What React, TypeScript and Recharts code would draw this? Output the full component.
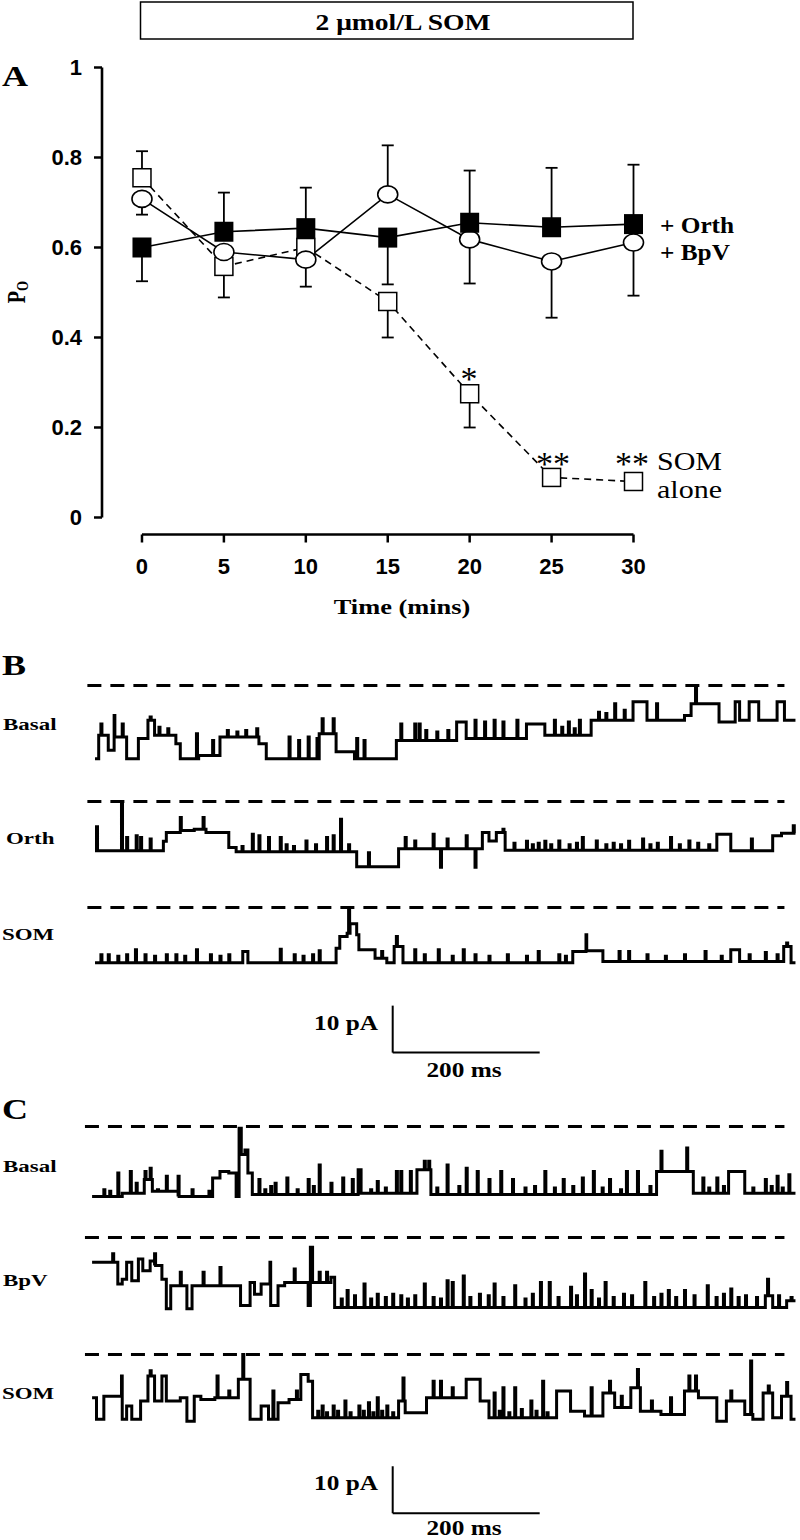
import React from 'react';
import { LineChart, Line, XAxis, YAxis, ErrorBar, ReferenceLine } from 'recharts';

const serif = "'Liberation Serif', 'Times New Roman', Times, serif";
const sans = "'Liberation Sans', Arial, Helvetica, sans-serif";

// ---- Panel A: open probability vs time ----
const minutes = [0, 5, 10, 15, 20, 25, 30];
const poTicks = [0, 0.2, 0.4, 0.6, 0.8, 1];

const orthPo = [0.6, 0.635, 0.643, 0.622, 0.655, 0.645, 0.652];
const orthErrLow = [0.075, 0, 0, 0.104, 0, 0, 0];
const orthErrHigh = [0, 0.087, 0.09, 0, 0.116, 0.132, 0.132];

const bpvPo = [0.708, 0.59, 0.573, 0.718, 0.618, 0.569, 0.611];
const bpvErrLow = [0.035, 0, 0.06, 0, 0.098, 0.125, 0.118];
const bpvErrHigh = [0, 0, 0, 0.109, 0, 0, 0];

const somPo = [0.755, 0.558, 0.6, 0.48, 0.275, 0.089, 0.08];
const somErrLow = [0, 0.069, 0, 0.08, 0.075, 0, 0];
const somErrHigh = [0.059, 0, 0, 0, 0, 0, 0];

const err = (lo: number, hi: number) => (lo || hi ? [lo, hi] : null);

const poRows = minutes.map((m, i) => ({
  m,
  orth: orthPo[i],
  bpv: bpvPo[i],
  som: somPo[i],
  orthErr: err(orthErrLow[i], orthErrHigh[i]),
  bpvErr: err(bpvErrLow[i], bpvErrHigh[i]),
  somErr: err(somErrLow[i], somErrHigh[i]),
}));

// ---- Panels B and C: single channel traces, [ms, pA] ----
// steps = level changes, spikes = brief openings/closings
const basalBSteps = [[5,-15.6],[10,-10.6],[23,-13.8],[32,-11.0],[48,-15.6],[64,-11.3],[77,-7.4],[86,-10.6],[115,-12.4],[121,-15.6],[146,-14.9],[175,-11.0],[228,-12.4],[238,-15.6],[310,-10.3],[333,-14.1],[358,-15.6],[415,-11.7],[497,-7.8],[510,-11.3],[592,-8.2],[617,-10.6],[680,-7.4],[737,-3.5],[756,-7.4],[807,-6.4],[816,-3.9],[854,-7.8],[876,-3.5],[882,-7.4],[895,-3.5],[908,-7.4],[933,-3.5],[943,-7.4]];
const basalBSpikes = [[13,-8.2],[31,-6.4],[42,-8.2],[80,-6.7],[92,-8.9],[104,-9.2],[143,-10.3],[165,-11.7],[185,-9.6],[198,-9.9],[210,-9.6],[225,-9.2],[269,-11.0],[282,-11.7],[295,-11.0],[307,-11.3],[314,-7.1],[329,-7.1],[361,-11.3],[371,-11.7],[421,-8.2],[440,-8.2],[446,-8.2],[455,-9.6],[470,-9.9],[485,-9.6],[522,-7.4],[535,-7.8],[548,-7.4],[560,-7.8],[579,-7.4],[630,-7.4],[640,-8.9],[649,-7.8],[657,-9.2],[664,-7.4],[690,-5.7],[700,-6.0],[712,-3.9],[725,-5.3],[769,-3.9],[822,0]];

const orthBSteps = [[5,-10.5],[98,-8.5],[102,-6.6],[121,-6.2],[140,-5.9],[156,-6.6],[187,-9.8],[197,-10.7],[361,-13.9],[418,-10.1],[532,-6.6],[541,-8.4],[551,-6.6],[563,-10.4],[851,-7.0],[870,-10.5],[927,-7.3],[939,-6.8]];
const orthBSpikes = [[7,-5.4],[41,0],[48,-7.7],[61,-7.3],[67,-7.7],[80,-8.0],[121,-3.4],[152,-3.4],[205,-9.6],[219,-7.0],[228,-7.3],[241,-7.7],[257,-7.7],[265,-9.2],[275,-9.6],[292,-8.4],[305,-9.2],[320,-7.7],[329,-7.3],[339,-3.8],[350,-9.2],[377,-10.9],[427,-7.7],[440,-8.4],[465,-7.0],[475,-14.0],[484,-8.0],[510,-7.3],[522,-14.0],[560,-5.9],[575,-8.9],[592,-8.5],[600,-9.2],[608,-8.9],[617,-8.5],[625,-9.2],[636,-8.4],[650,-9.2],[660,-8.9],[668,-7.7],[687,-8.4],[700,-9.2],[710,-8.9],[720,-9.2],[731,-8.5],[750,-8.0],[760,-9.2],[770,-8.9],[788,-7.7],[800,-9.2],[813,-8.4],[825,-8.9],[840,-9.2],[898,-8.0],[955,-5.2]];

const somBSteps = [[5,-11.8],[206,-9.4],[213,-11.8],[333,-8.7],[338,-6.2],[348,-5.5],[352,-3.5],[361,-5.8],[364,-9.0],[386,-10.8],[402,-11.8],[412,-8.3],[424,-11.8],[655,-9.4],[674,-9.2],[696,-11.5],[870,-9.0],[882,-11.5],[942,-8.3],[952,-11.8]];
const somBSpikes = [[13,-10.1],[23,-10.1],[36,-10.4],[48,-10.1],[60,-9.0],[73,-10.1],[86,-10.4],[102,-10.1],[115,-10.1],[127,-10.4],[143,-9.0],[162,-10.1],[175,-10.4],[187,-10.1],[257,-8.9],[276,-10.1],[288,-10.4],[301,-10.1],[310,-9.2],[350,0],[395,-9.4],[415,-6.2],[440,-9.0],[453,-10.1],[472,-9.0],[491,-10.4],[506,-9.0],[522,-10.1],[541,-10.4],[566,-10.1],[592,-10.4],[608,-9.4],[636,-10.1],[645,-10.4],[673,-5.8],[718,-9.4],[731,-9.4],[756,-10.1],[781,-10.4],[807,-10.1],[835,-9.4],[857,-10.4],[895,-10.1],[917,-9.6],[933,-10.1],[946,-7.6]];

const basalCSteps = [[1,-14.9],[42,-14.2],[72,-11.3],[83,-13.8],[118,-14.9],[165,-11.0],[175,-9.6],[187,-9.9],[197,-14.9],[201,-0.4],[204,-6.0],[209,-5.0],[213,-9.9],[219,-14.5],[363,-9.2],[367,-14.2],[443,-9.2],[462,-14.5],[769,-9.6],[819,-14.2],[867,-9.6],[889,-14.2]];
const basalCSpikes = [[17,-13.5],[25,-13.8],[36,-9.9],[53,-9.6],[61,-12.1],[73,-9.6],[80,-8.9],[90,-13.5],[102,-10.6],[118,-10.6],[137,-13.5],[160,-13.8],[228,-11.3],[236,-13.5],[244,-12.8],[250,-12.1],[266,-11.0],[280,-13.5],[295,-11.3],[302,-12.8],[310,-8.2],[326,-12.1],[342,-11.0],[355,-11.3],[380,-13.5],[389,-11.7],[400,-13.1],[415,-9.6],[421,-9.6],[434,-9.6],[453,-7.4],[459,-7.4],[470,-13.1],[484,-8.2],[500,-12.8],[510,-8.9],[525,-9.6],[541,-11.3],[557,-9.6],[573,-11.3],[590,-13.1],[603,-12.8],[617,-9.6],[630,-13.1],[642,-11.3],[655,-12.8],[668,-11.0],[683,-9.6],[695,-13.1],[705,-11.3],[720,-13.5],[728,-9.6],[743,-9.6],[760,-12.8],[775,-5.3],[810,-4.6],[832,-11.0],[840,-13.1],[851,-11.0],[860,-12.8],[900,-13.1],[917,-11.3],[925,-12.8],[933,-10.6],[940,-13.1],[949,-10.3]];

const bpvCSteps = [[1,-5.3],[36,-9.9],[42,-8.9],[48,-5.3],[55,-9.2],[64,-4.6],[70,-7.1],[80,-5.0],[86,-6.0],[96,-8.9],[102,-15.2],[108,-10.3],[130,-15.2],[137,-10.3],[203,-14.5],[216,-9.6],[222,-12.1],[231,-9.9],[244,-14.5],[254,-10.3],[263,-9.6],[295,-14.5],[298,-2.1],[301,-9.6],[326,-8.5],[331,-14.9],[917,-12.4],[927,-14.9],[946,-13.5]];
const bpvCSpikes = [[29,-3.5],[86,-3.5],[121,-7.4],[152,-7.4],[175,-6.4],[243,-5.3],[276,-6.7],[310,-7.4],[320,-7.4],[340,-13.1],[348,-11.3],[358,-12.4],[371,-9.9],[380,-13.1],[389,-12.1],[400,-12.8],[410,-12.1],[421,-12.4],[430,-13.1],[440,-12.4],[453,-9.9],[465,-12.8],[475,-13.1],[484,-9.2],[491,-9.6],[506,-8.2],[515,-12.8],[528,-12.1],[540,-12.4],[548,-9.9],[560,-12.8],[576,-10.3],[590,-13.1],[600,-12.1],[611,-9.6],[623,-9.6],[635,-12.8],[652,-10.6],[660,-12.4],[671,-7.8],[680,-11.3],[690,-13.1],[699,-9.6],[710,-12.8],[724,-12.1],[735,-12.4],[753,-9.6],[765,-12.8],[775,-12.1],[785,-11.3],[795,-12.8],[807,-11.3],[820,-12.4],[838,-10.3],[850,-12.8],[860,-12.1],[870,-11.0],[880,-12.8],[890,-12.4],[905,-12.8],[920,-8.9],[935,-12.4],[952,-12.8]];

const somCSteps = [[1,-9.2],[7,-13.8],[17,-8.9],[42,-13.8],[48,-11.0],[55,-13.8],[67,-9.9],[77,-4.6],[86,-9.9],[96,-4.6],[102,-9.9],[121,-9.2],[130,-14.2],[140,-8.9],[149,-9.6],[168,-9.2],[200,-5.3],[216,-13.8],[231,-11.0],[241,-13.8],[254,-10.3],[269,-9.6],[285,-4.3],[295,-5.7],[301,-13.5],[418,-9.9],[427,-12.4],[456,-9.2],[510,-5.3],[529,-9.9],[541,-13.5],[633,-7.8],[652,-12.1],[671,-13.1],[696,-8.2],[712,-11.3],[734,-7.1],[747,-12.1],[775,-12.8],[807,-7.8],[826,-9.2],[851,-14.2],[864,-9.9],[889,-12.8],[900,-13.8],[914,-8.2],[927,-13.5],[939,-8.9],[952,-13.8]];
const somCSpikes = [[41,-4.6],[80,-3.5],[171,-4.6],[187,-7.8],[206,0],[247,-7.8],[279,-7.8],[308,-12.1],[314,-11.0],[320,-12.4],[329,-11.0],[335,-12.1],[345,-9.9],[352,-12.4],[364,-11.0],[370,-12.1],[377,-10.3],[383,-12.4],[389,-9.2],[395,-12.1],[402,-11.0],[410,-12.4],[424,-5.0],[465,-5.7],[475,-5.7],[491,-7.1],[548,-8.2],[555,-12.1],[560,-7.1],[568,-12.4],[576,-7.1],[585,-11.7],[598,-9.9],[605,-12.1],[614,-5.7],[620,-12.4],[680,-7.1],[705,-5.7],[721,-8.9],[743,-3.2],[762,-9.9],[788,-9.2],[813,-4.6],[822,-4.6],[870,-7.8],[897,-1.4],[921,-6.7],[946,-6.0]];

const scaleBarMs = 200;
const scaleBarPa = 10;

type Pt = { t: number; v: number };

function buildTrace(steps: number[][], spikes: number[][], end = 958): Pt[] {
  const levelAt = (t: number) => {
    let v = steps[0][1];
    for (const [st, sv] of steps) if (st <= t) v = sv;
    return v;
  };
  const pts: Pt[] = steps.map(([t, v]) => ({ t, v }));
  spikes.forEach(([t, v]) => {
    pts.push({ t, v });
    pts.push({ t: t + 1.4, v: levelAt(t + 1.4) });
  });
  pts.sort((a, b) => a.t - b.t);
  pts.push({ t: end, v: levelAt(end) });
  return pts;
}

// layout of the trace strips
const msPx = 0.735;
const paPx = 4.7;
const t0X = 91;
const tMin = -10;
const tMax = 960;
const yTop = 2;

const traces = [
  { id: 'bBasal', data: buildTrace(basalBSteps, basalBSpikes), dashY: 685, dashFrom: -5.4, yMin: -18 },
  { id: 'bOrth', data: buildTrace(orthBSteps, orthBSpikes), dashY: 801, dashFrom: -5.4, yMin: -18 },
  { id: 'bSom', data: buildTrace(somBSteps, somBSpikes), dashY: 907, dashFrom: -5.4, yMin: -36, barBottom: -30.9 },
  { id: 'cBasal', data: buildTrace(basalCSteps, basalCSpikes), dashY: 1126, dashFrom: -8.7, yMin: -18 },
  { id: 'cBpv', data: buildTrace(bpvCSteps, bpvCSpikes), dashY: 1237, dashFrom: -8.7, yMin: -18 },
  { id: 'cSom', data: buildTrace(somCSteps, somCSpikes), dashY: 1354, dashFrom: -8.7, yMin: -36, barBottom: -33.8 },
];

const Trace = ({ cfg }: { cfg: any }) => {
  const height = (yTop - cfg.yMin) * paPx;
  const width = (tMax - tMin) * msPx;
  const left = t0X + tMin * msPx;
  const barT = 410;
  return (
    <div style={{ position: 'absolute', left, top: cfg.dashY - yTop * paPx, width, height }}>
      <LineChart width={width} height={height} data={cfg.data} margin={{ top: 0, right: 0, bottom: 0, left: 0 }}>
        <XAxis dataKey="t" type="number" domain={[tMin, tMax]} hide />
        <YAxis type="number" domain={[cfg.yMin, yTop]} hide />
        <ReferenceLine
          segment={[{ x: cfg.dashFrom, y: 0 }, { x: 943, y: 0 }]}
          stroke="#000"
          strokeWidth={3}
          strokeDasharray="14 9"
        />
        <Line type="stepAfter" dataKey="v" stroke="#000" strokeWidth={3} dot={false} isAnimationActive={false} />
        {cfg.barBottom !== undefined && (
          <ReferenceLine
            segment={[{ x: barT, y: cfg.barBottom + scaleBarPa }, { x: barT, y: cfg.barBottom }]}
            stroke="#000"
            strokeWidth={2}
          />
        )}
        {cfg.barBottom !== undefined && (
          <ReferenceLine
            segment={[{ x: barT, y: cfg.barBottom }, { x: barT + scaleBarMs, y: cfg.barBottom }]}
            stroke="#000"
            strokeWidth={2}
          />
        )}
      </LineChart>
    </div>
  );
};

// markers
const OrthDot = (p: any) =>
  p.cx == null ? <g key={p.index} /> : <rect key={p.index} x={p.cx - 9.5} y={p.cy - 10} width={19} height={20} fill="#000" />;
const BpvDot = (p: any) =>
  p.cx == null ? <g key={p.index} /> : <ellipse key={p.index} cx={p.cx} cy={p.cy} rx={10} ry={8.5} fill="#fff" stroke="#000" strokeWidth={1.6} />;
const SomDot = (p: any) =>
  p.cx == null ? <g key={p.index} /> : <rect key={p.index} x={p.cx - 9} y={p.cy - 9} width={18} height={18} fill="#fff" stroke="#000" strokeWidth={1.5} />;

const T = ({ x, y, size, s = 1.2, anchor = 'start', weight = 'bold', family = serif, children }: any) => (
  <g transform={`translate(${x},${y}) scale(${s},1)`}>
    <text textAnchor={anchor} fontSize={size} fontWeight={weight} fontFamily={family} fill="#000">
      {children}
    </text>
  </g>
);

const tickStyle = { fill: '#000', fontSize: 22, fontWeight: 700, fontFamily: sans };

const App = () => {
  return (
    <div style={{ position: 'absolute', left: 0, top: 0, width: 800, height: 1540, background: '#fff', overflow: 'hidden' }}>
      <div style={{ position: 'absolute', left: 0, top: 0 }}>
        <LineChart width={800} height={640} data={poRows} margin={{ top: 67.5, right: 166.5, bottom: 75.5, left: 42 }}>
          <XAxis
            dataKey="m"
            type="number"
            domain={[-2.44, 30]}
            ticks={minutes}
            axisLine={false}
            tickLine={{ stroke: '#000', strokeWidth: 2.5 }}
            tickSize={8}
            tickMargin={16}
            tick={tickStyle}
            height={30}
          />
          <YAxis
            type="number"
            domain={[-0.0378, 1]}
            ticks={poTicks}
            width={60}
            axisLine={false}
            tickLine={{ stroke: '#000', strokeWidth: 2.5 }}
            tickSize={8}
            tickMargin={12}
            tick={tickStyle}
          />
          <ReferenceLine segment={[{ x: -2.44, y: 0 }, { x: -2.44, y: 1 }]} stroke="#000" strokeWidth={2.6} />
          <ReferenceLine segment={[{ x: 0, y: -0.0378 }, { x: 30, y: -0.0378 }]} stroke="#000" strokeWidth={2.6} />

          <Line dataKey="som" stroke="none" dot={false} activeDot={false} isAnimationActive={false}>
            <ErrorBar dataKey="somErr" direction="y" width={6} stroke="#000" strokeWidth={1.8} />
          </Line>
          <Line dataKey="bpv" stroke="none" dot={false} activeDot={false} isAnimationActive={false}>
            <ErrorBar dataKey="bpvErr" direction="y" width={6} stroke="#000" strokeWidth={1.8} />
          </Line>
          <Line dataKey="orth" stroke="none" dot={false} activeDot={false} isAnimationActive={false}>
            <ErrorBar dataKey="orthErr" direction="y" width={6} stroke="#000" strokeWidth={1.8} />
          </Line>

          <Line dataKey="som" stroke="#000" strokeWidth={1.6} strokeDasharray="7 5" dot={SomDot} activeDot={false} isAnimationActive={false} />
          <Line dataKey="bpv" stroke="#000" strokeWidth={1.6} dot={BpvDot} activeDot={false} isAnimationActive={false} />
          <Line dataKey="orth" stroke="#000" strokeWidth={1.6} dot={OrthDot} activeDot={false} isAnimationActive={false} />
        </LineChart>
      </div>

      {traces.map((cfg) => (
        <Trace key={cfg.id} cfg={cfg} />
      ))}

      <svg width={800} height={1540} style={{ position: 'absolute', left: 0, top: 0, pointerEvents: 'none' }}>
        <rect x={140.5} y={2} width={492.5} height={37} fill="none" stroke="#000" strokeWidth={1.5} />
        <T x={403} y={30} size={23} anchor="middle">2 μmol/L SOM</T>

        <T x={2} y={86} size={30}>A</T>
        <g transform="translate(16,292) scale(1.3,1) rotate(-90)">
          <text textAnchor="middle" dominantBaseline="central" fontSize={20} fontWeight="bold" fontFamily={serif} fill="#000">
            P<tspan fontSize={13} dy={5}>O</tspan>
          </text>
        </g>
        <T x={402} y={614} size={22} anchor="middle">Time (mins)</T>

        <T x={660} y={233} size={23} s={1.1}>+ Orth</T>
        <T x={660} y={260} size={23} s={1.1}>+ BpV</T>
        <T x={469} y={390} size={34} s={1} anchor="middle" weight="normal">*</T>
        <T x={553} y={475} size={34} s={1} anchor="middle" weight="normal">**</T>
        <T x={632} y={475} size={34} s={1} anchor="middle" weight="normal">**</T>
        <T x={657} y={470} size={25} weight="normal">SOM</T>
        <T x={657} y={498} size={25} weight="normal">alone</T>

        <T x={2} y={675} size={30}>B</T>
        <T x={3} y={730} size={17} s={1.35}>Basal</T>
        <T x={6} y={844} size={17} s={1.35}>Orth</T>
        <T x={2} y={940} size={17} s={1.35}>SOM</T>
        <T x={378} y={1030} size={22} s={1.15} anchor="end">10 pA</T>
        <T x={464} y={1077} size={22} s={1.15} anchor="middle">200 ms</T>

        <T x={2} y={1119} size={30}>C</T>
        <T x={3} y={1172} size={17} s={1.35}>Basal</T>
        <T x={3} y={1286} size={17} s={1.35}>BpV</T>
        <T x={2} y={1399} size={17} s={1.35}>SOM</T>
        <T x={378} y={1490} size={22} s={1.15} anchor="end">10 pA</T>
        <T x={464} y={1535} size={22} s={1.15} anchor="middle">200 ms</T>
      </svg>
    </div>
  );
};

export default App;
